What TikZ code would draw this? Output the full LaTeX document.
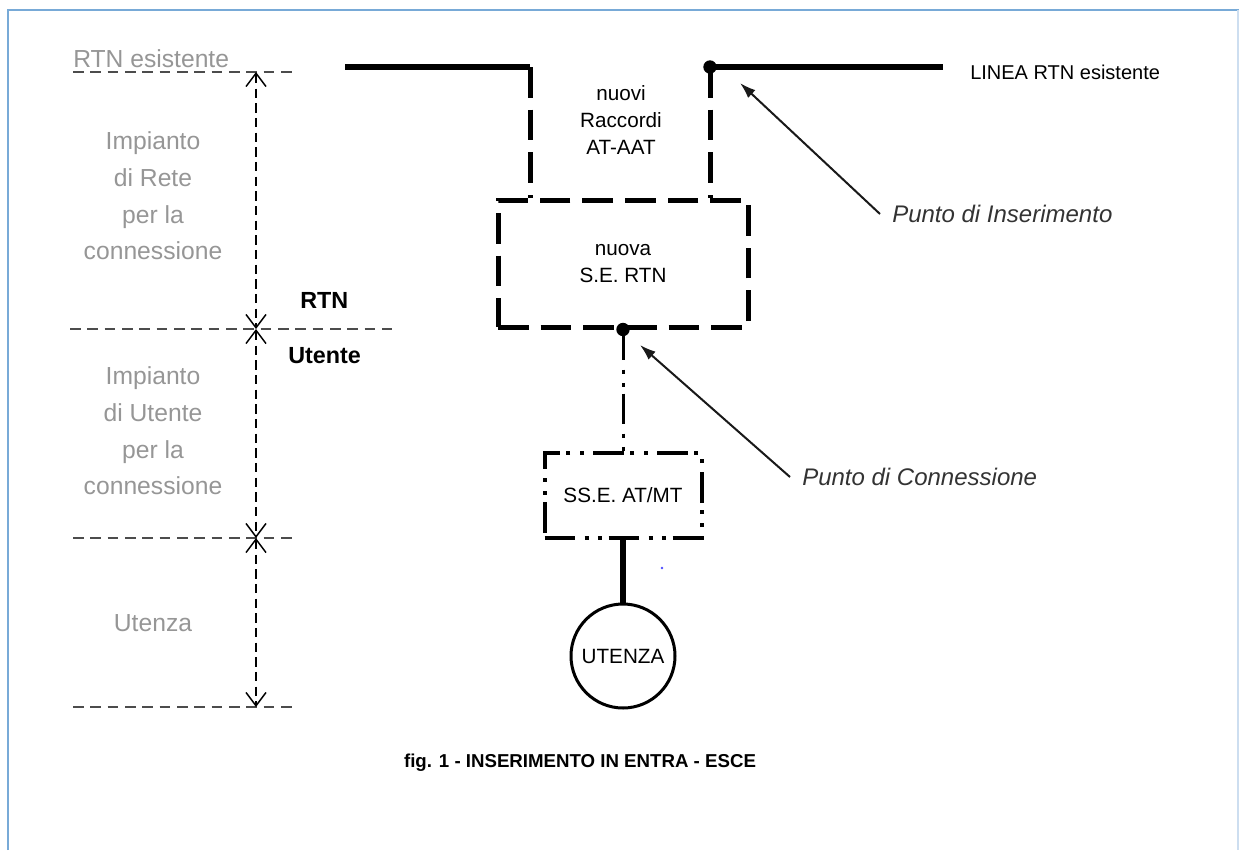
\documentclass[tikz,border=0pt]{standalone}
\usepackage{fontspec}
\setmainfont{Liberation Sans}
\usetikzlibrary{arrows.meta}
\definecolor{labelgray}{RGB}{150,150,150}
\definecolor{frameblue}{RGB}{120,170,215}
\definecolor{framelight}{RGB}{205,222,240}
\tikzset{
	greytxt/.style={text=labelgray, font=\fontsize{18.5}{27.5}\selectfont, align=center, inner sep=0pt},
	boldtxt/.style={font=\bfseries\fontsize{17.5}{21}\selectfont, anchor=base west, inner sep=0pt},
	boxtxt/.style={font=\fontsize{15.5}{18.5}\selectfont, align=center, inner sep=0pt},
	notetxt/.style={font=\itshape\fontsize{18}{22}\selectfont, text=black!80, anchor=west, inner xsep=9pt, inner ysep=0pt},
	dimline/.style={black!70, line width=1.4pt, dash pattern=on 8pt off 5pt},
	dimarrow/.style={line width=1.1pt, dash pattern=on 7pt off 4pt, {Straight Barb[length=10pt,width=15pt]}-{Straight Barb[length=10pt,width=15pt]}},
	cable/.style={line width=4pt},
	cabledash/.style={line width=3.75pt, dash pattern=on 23pt off 9pt},
	ssedash/.style={dash pattern=on 23pt off 7pt on 3pt off 7pt on 3pt off 5pt},
	notearrow/.style={line width=1.5pt, black!90, -{Latex[length=12pt,width=8pt]}}
}
\begin{document}
\begin{tikzpicture}[x=0.75pt,y=0.75pt,yscale=-1,xscale=1]
	\useasboundingbox (0,0) rectangle (1239,850);
	\draw [frameblue, line width=1.5pt] (8,850) -- (8,10) -- (1239,10);
	\draw [framelight, line width=1pt] (1238,10) -- (1238,850);

	% fasce a sinistra
	\draw [dimline] (73,72) -- (295,72);
	\draw [dimline] (70,329) -- (392,329);
	\draw [dimline] (73,538) -- (295,538);
	\draw [dimline] (73,707) -- (295,707);
	\coordinate (dimA) at (256,72);
	\coordinate (dimB) at (256,329);
	\coordinate (dimC) at (256,538);
	\coordinate (dimD) at (256,707);
	\draw [dimarrow] (dimA) -- (dimB);
	\draw [dimarrow] (dimB) -- (dimC);
	\draw [dimarrow] (dimC) -- (dimD);

	\node [greytxt, anchor=base west] (rtnesist) at (73,67) {RTN esistente};
	\node [greytxt] (lblrete) at (153,196) {Impianto\\di Rete\\per la\\connessione};
	\node [greytxt] (lblutente) at (153,431) {Impianto\\di Utente\\per la\\connessione};
	\node [greytxt] (lblutenza) at (153,623) {Utenza};
	\node [boldtxt] (rtn) at (300,308) {RTN};
	\node [boldtxt] (utente) at (288,363) {Utente};

	% stazioni
	\node [boxtxt, draw, cabledash, minimum width=187.5pt, minimum height=95.25pt] (sertn) at (623,263.5) {nuova\\[2pt]S.E. RTN};
	\node [boxtxt, draw, line width=3pt, ssedash, minimum width=117.75pt, minimum height=63.75pt] (sse) at (623,495.5) {SS.E. AT/MT};
	\node [boxtxt, draw, circle, line width=2.25pt, minimum size=78pt] (utenza) at (623,656) {UTENZA};
	\node [boxtxt] (raccordi) at (621,120) {nuovi\\[2pt]Raccordi\\[2pt]AT-AAT};
	\node [boxtxt, font=\fontsize{15}{18}\selectfont, anchor=base west] (linea) at (970,79) {LINEA RTN esistente};

	% linea e raccordi
	\coordinate (linW) at (345,67);
	\coordinate (raccL) at (530,67);
	\coordinate (ins) at (710,67);
	\coordinate (linE) at (943,67);
	\draw [cable] (linW) -- (raccL);
	\draw [cabledash] (raccL) -- (raccL |- sertn.north);
	\draw [cable] (ins) -- (linE);
	\draw [cabledash] (ins) -- (ins |- sertn.north);
	\fill (ins) circle (5pt);
	\draw [line width=2.25pt, ssedash] (sertn.south) -- (sse.north);
	\fill (sertn.south) circle (5pt);
	\draw [cable] (sse.south) -- (utenza.north);
	\fill [blue!70] (662,568) circle (1pt);

	% punti
	\node [notetxt] (pins) at (880,214) {Punto di Inserimento};
	\node [notetxt] (pconn) at (790,477) {Punto di Connessione};
	\coordinate (insTip) at (740,83);
	\coordinate (connTip) at (640,345);
	\draw [notearrow] (pins.west) -- (insTip);
	\draw [notearrow] (pconn.west) -- (connTip);

	\node [font=\bfseries\fontsize{14}{17}\selectfont, anchor=base, inner sep=0pt] (caption) at (580,767) {fig. 1 - INSERIMENTO IN ENTRA - ESCE};
\end{tikzpicture}
\end{document}
